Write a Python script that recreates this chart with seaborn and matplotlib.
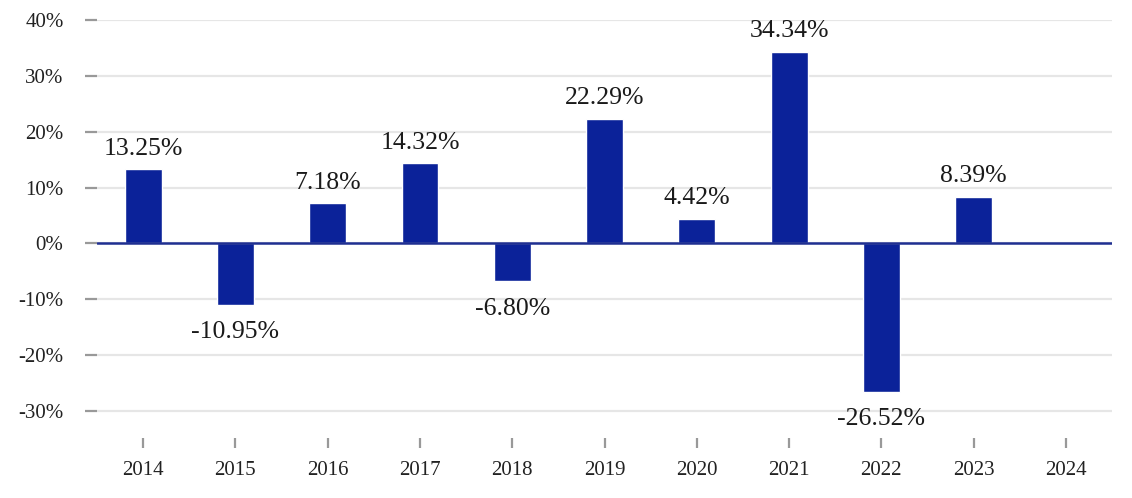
import numpy as np
import pandas as pd
import seaborn as sns
import matplotlib
matplotlib.use("Agg")
import matplotlib.pyplot as plt
from matplotlib.ticker import FuncFormatter

years = ["2014", "2015", "2016", "2017", "2018", "2019", "2020", "2021", "2022", "2023", "2024"]
returns = [13.25, -10.95, 7.18, 14.32, -6.80, 22.29, 4.42, 34.34, -26.52, 8.39, np.nan]
yticks = [-30, -20, -10, 0, 10, 20, 30, 40]

sns.set_theme(style="white")
plt.rcParams['font.family'] = ['Liberation Serif', 'DejaVu Serif']

df = pd.DataFrame({"year": years, "ret": returns})

fig = plt.figure(figsize=(11.32, 4.98), dpi=100)
ax = fig.add_axes([97/1132, 1 - 434/498, (1112-97)/1132, (434-20)/498])

bar_color = "#0b2299"
sns.barplot(data=df, x="year", y="ret", order=years, color=bar_color,
            width=0.4, saturation=1, ax=ax, errorbar=None, zorder=3)

ax.set_ylim(-34.1, 40)
ax.set_xlim(-0.5, len(years) - 0.5)
ax.set_yticks(yticks)
ax.yaxis.set_major_formatter(FuncFormatter(lambda v, p: f"{int(v)}%"))
ax.grid(axis="y", color="#e6e6e6", linewidth=1.6, zorder=0)
ax.grid(axis="x", visible=False)
ax.axhline(0, color="#1f2f91", linewidth=1.8, zorder=4)

for s in ax.spines.values():
    s.set_visible(False)
ax.spines["bottom"].set_position(("outward", 3))

ax.tick_params(axis="y", which="major", length=8.6, width=1.6, color="#999999",
               direction="out", pad=15.5, labelsize=15, labelcolor="#222222", left=True)
ax.tick_params(axis="x", which="major", length=7, width=1.6, color="#999999",
               direction="out", pad=9.5, labelsize=15, labelcolor="#222222", bottom=True)
ax.set_xlabel("")
ax.set_ylabel("")

for i, v in enumerate(returns):
    if np.isnan(v):
        continue
    if v >= 0:
        ax.annotate(f"{v:.2f}%", (i, v), xytext=(0, 7), textcoords="offset points",
                    ha="center", va="bottom", fontsize=18.5, color="#1a1a1a", zorder=5)
    else:
        ax.annotate(f"{v:.2f}%", (i, v), xytext=(0, -12), textcoords="offset points",
                    ha="center", va="top", fontsize=18.5, color="#1a1a1a", zorder=5)

fig.savefig("out.png", dpi=100)
